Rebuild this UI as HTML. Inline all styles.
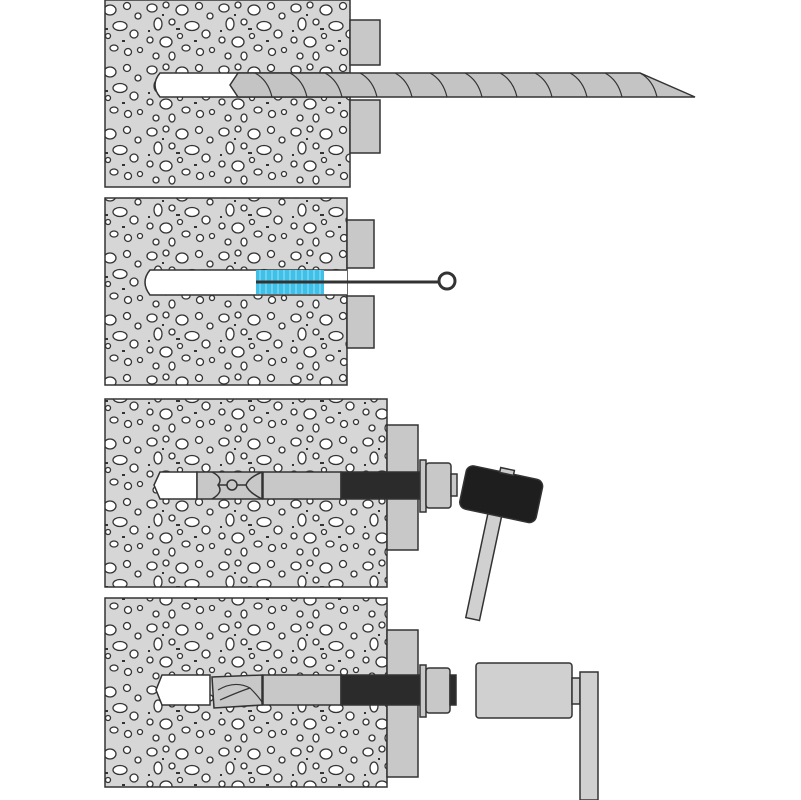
<!DOCTYPE html>
<html><head><meta charset="utf-8"><style>html,body{margin:0;padding:0;background:#fff}svg{display:block}</style></head>
<body>
<svg width="801" height="800" viewBox="0 0 801 800" xmlns="http://www.w3.org/2000/svg">
<defs>
<pattern id="c" width="72" height="62" patternUnits="userSpaceOnUse">
<rect width="72" height="62" fill="#d6d6d6"/>
<g fill="#fff" stroke="#333" stroke-width="1.3">
<ellipse cx="8" cy="8" rx="5" ry="4"/><circle cx="22" cy="5" r="3"/><ellipse cx="38" cy="10" rx="6" ry="5"/>
<circle cx="55" cy="6" r="3.5"/><circle cx="66" cy="16" r="3"/><ellipse cx="14" cy="24" rx="4" ry="6"/>
<circle cx="28" cy="22" r="3"/><ellipse cx="48" cy="26" rx="7" ry="4.5"/><circle cx="62" cy="34" r="4"/>
<circle cx="6" cy="40" r="3"/><ellipse cx="22" cy="42" rx="6" ry="5"/><circle cx="36" cy="36" r="2.5"/>
<ellipse cx="42" cy="48" rx="4" ry="3"/><circle cx="56" cy="52" r="3.5"/><circle cx="12" cy="56" r="3"/>
<ellipse cx="28" cy="56" rx="3" ry="4"/><circle cx="68" cy="50" r="2.5"/>
</g>
<g fill="#333"><rect x="32" y="28" width="4" height="2"/><rect x="4" y="30" width="2" height="2"/><rect x="50" y="40" width="3" height="2"/><rect x="18" y="14" width="2" height="2"/></g>
</pattern>
</defs>
<g stroke="#333" stroke-width="1.5">
<!-- Block 1 -->
<rect x="105" y="0" width="245" height="187" fill="url(#c)"/>
<rect x="350" y="20" width="30" height="45" fill="#c8c8c8"/>
<rect x="350" y="100" width="30" height="53" fill="#c8c8c8"/>
<path d="M350 73 H160 Q150 85 160 97 H350" fill="#fff"/>
<path d="M238 73 L230 85 L238 97 H695 L640 73 Z" fill="#c4c4c4"/>
<g stroke-width="1.2" fill="none"><path d="M255 73 Q268 80 272 97M290 73 Q303 80 307 97M325 73 Q338 80 342 97M360 73 Q373 80 377 97M395 73 Q408 80 412 97M430 73 Q443 80 447 97M465 73 Q478 80 482 97M500 73 Q513 80 517 97M535 73 Q548 80 552 97M570 73 Q583 80 587 97M605 73 Q618 80 622 97M640 73 Q653 80 657 97"/></g>
<!-- Block 2 -->
<rect x="105" y="198" width="242" height="187" fill="url(#c)"/>
<rect x="347" y="220" width="27" height="48" fill="#c8c8c8"/>
<rect x="347" y="296" width="27" height="52" fill="#c8c8c8"/>
<path d="M347 270 H150 Q140 282 150 295 H347" fill="#fff"/>
<rect x="256" y="270" width="68" height="24" fill="#3fc0e8" stroke="none"/>
<g stroke="#9ae0f5" stroke-width="1"><path d="M260 270V294M266 270V294M272 270V294M278 270V294M284 270V294M290 270V294M296 270V294M302 270V294M308 270V294M314 270V294M320 270V294"/></g>
<line x1="256" y1="282" x2="440" y2="282" stroke-width="3"/>
<circle cx="447" cy="281" r="8" fill="#fff" stroke-width="3"/>
<!-- Block 3 -->
<rect x="105" y="399" width="282" height="188" fill="url(#c)"/>
<rect x="387" y="425" width="31" height="125" fill="#c8c8c8"/>
<path d="M197 472 H160 L154 485 L160 499 H197 Z" fill="#fff"/>
<path d="M197 472 H262 V499 H197 Z" fill="#c8c8c8"/>
<path d="M212 472 Q224 478 218 485 Q224 492 212 499 M262 472 Q248 478 246 485 Q248 492 262 499 M218 485 H246" fill="none"/>
<circle cx="232" cy="485" r="5" fill="#c8c8c8"/>
<rect x="263" y="472" width="78" height="27" fill="#c8c8c8"/>
<rect x="341" y="472" width="79" height="27" fill="#2b2b2b"/>
<rect x="420" y="460" width="6" height="52" fill="#c8c8c8"/>
<rect x="426" y="463" width="25" height="45" rx="3" fill="#c8c8c8"/>
<rect x="451" y="474" width="6" height="22" fill="#c8c8c8"/>
<!-- hammer -->
<g transform="rotate(12 500 495)">
<rect x="492" y="510" width="14" height="112" fill="#d0d0d0"/>
<rect x="462" y="472" width="78" height="44" rx="7" fill="#1e1e1e"/>
<rect x="495" y="468" width="14" height="5" fill="#ccc"/>
</g>
<!-- Block 4 -->
<rect x="105" y="598" width="282" height="189" fill="url(#c)"/>
<rect x="387" y="630" width="31" height="147" fill="#c8c8c8"/>
<path d="M210 675 H162 L156 690 L162 705 H210 Z" fill="#fff"/>
<path d="M212 677 L262 675 V705 L214 708 Z" fill="#c8c8c8"/>
<path d="M218 690 Q235 680 250 688 Q258 696 262 702 M220 700 Q238 692 250 688" fill="none" stroke-width="1.2"/>
<rect x="263" y="675" width="78" height="30" fill="#c8c8c8"/>
<rect x="341" y="675" width="81" height="30" fill="#2b2b2b"/>
<rect x="420" y="665" width="6" height="52" fill="#c8c8c8"/>
<rect x="426" y="668" width="24" height="45" rx="3" fill="#c8c8c8"/>
<rect x="450" y="675" width="6" height="30" fill="#2b2b2b"/>
<!-- wrench -->
<rect x="476" y="663" width="96" height="55" rx="3" fill="#d0d0d0"/>
<rect x="572" y="678" width="8" height="26" fill="#d0d0d0"/>
<rect x="580" y="672" width="18" height="128" fill="#d0d0d0"/>
</g>
</svg>
</body></html>
